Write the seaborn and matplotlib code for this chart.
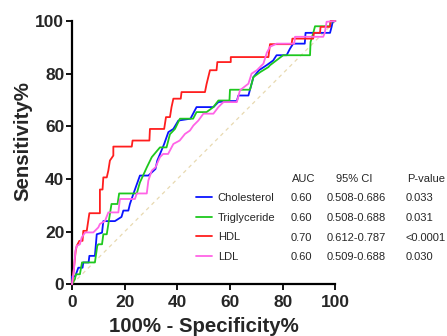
import matplotlib
matplotlib.use("Agg")
import matplotlib.pyplot as plt
import seaborn as sns
import pandas as pd
from matplotlib.lines import Line2D

sns.set_style("ticks")
plt.rcParams['font.family'] = ['Liberation Sans', 'DejaVu Sans']

# ---- data ----
chol_fpr = [0, 0, 1.2, 2.4, 4.0, 4.3, 6.3, 6.6, 8.7, 9.4, 11.4, 11.9, 16.3, 18.8, 19.5, 21.4, 22.0, 23.3, 25.8, 29.0,
            31.7, 32.4, 35.0, 36.6, 38.5, 40.4, 45.0, 47.3, 53.7, 55.6, 58.7, 62.6, 63.2, 67.0, 68.9, 71.0, 73.9, 76.4,
            77.7, 81.5, 82.8, 84.0, 88.4, 88.7, 98.0, 98.6, 99.0, 100]
chol_tpr = [0, 3.0, 3.0, 6.3, 6.3, 8.3, 8.3, 10.8, 10.8, 19.0, 19.6, 24.0, 24.0, 25.6, 28.0, 28.0, 30.5, 34.3, 41.3, 41.3,
            43.8, 47.0, 53.3, 57.8, 59.0, 62.2, 62.9, 67.3, 67.3, 69.2, 69.6, 69.6, 71.7, 71.7, 78.7, 81.3, 83.2, 85.0,
            87.0, 87.0, 89.5, 91.4, 91.4, 95.5, 95.5, 97.8, 99.7, 100]

trig_fpr = [0, 1.1, 1.5, 3.0, 3.8, 8.7, 9.6, 10.0, 11.4, 11.9, 13.2, 14.4, 15.0, 17.3, 17.9, 24.6, 25.8, 28.4, 30.3, 33.4,
            35.9, 37.2, 39.1, 41.0, 46.0, 47.3, 51.1, 53.7, 55.6, 59.8, 60.0, 67.6, 68.9, 71.5, 74.6, 75.2, 80.2, 90.4,
            90.6, 91.5, 92.3, 98.0, 98.2, 100]
trig_tpr = [0, 1.9, 3.8, 3.8, 8.3, 8.3, 14.6, 15.2, 15.2, 19.0, 19.0, 26.7, 30.5, 30.5, 34.5, 34.5, 38.7, 44.4, 48.3, 52.0,
            52.0, 57.0, 59.0, 62.9, 62.9, 65.4, 65.4, 67.3, 69.8, 69.8, 73.9, 73.9, 78.7, 80.6, 82.5, 83.2, 87.0, 87.0,
            92.0, 95.0, 98.0, 98.0, 99.7, 100]

hdl_fpr = [0, 0.5, 1.4, 1.8, 2.8, 4.0, 4.3, 5.6, 6.6, 10.6, 10.6, 11.6, 11.9, 13.2, 13.8, 14.4, 15.7, 15.7, 22.7, 23.0,
           29.4, 29.6, 35.0, 35.7, 37.2, 37.8, 38.5, 41.3, 41.6, 50.5, 51.1, 52.4, 54.9, 55.2, 60.3, 60.3, 74.6, 75.2,
           83.4, 83.7, 91.6, 91.9, 94.2, 94.4, 98.0, 98.2, 100]
hdl_tpr = [0, 3.8, 12.7, 14.6, 16.5, 16.5, 20.3, 20.3, 27.0, 27.0, 36.0, 36.0, 40.6, 40.6, 43.2, 47.0, 48.9, 52.3, 52.3,
           54.6, 54.6, 59.0, 59.0, 63.5, 63.5, 67.3, 70.5, 70.5, 73.0, 73.0, 76.0, 81.3, 81.3, 84.4, 84.4, 86.3, 86.3,
           91.2, 91.2, 93.3, 93.3, 95.5, 95.5, 97.8, 97.8, 100, 100]

ldl_fpr = [0, 0.8, 1.3, 1.8, 3.0, 3.7, 5.0, 6.2, 8.1, 10.0, 10.6, 12.5, 13.8, 17.6, 18.2, 23.9, 24.6, 28.4, 29.0, 30.3,
           31.7, 33.4, 34.6, 36.5, 38.5, 40.9, 42.9, 44.8, 46.1, 48.0, 49.9, 53.7, 55.6, 57.5, 62.6, 63.8, 67.0, 68.2,
           70.2, 72.7, 74.0, 75.2, 77.7, 84.4, 84.7, 95.4, 96.0, 96.7, 100]
ldl_tpr = [0, 6.3, 12.7, 14.6, 15.2, 17.8, 19.7, 19.7, 19.7, 21.6, 22.9, 24.0, 27.3, 27.3, 32.4, 32.4, 34.5, 34.5, 39.4,
           43.2, 44.4, 48.3, 49.5, 49.5, 53.3, 54.6, 57.1, 58.4, 60.3, 62.2, 64.8, 64.8, 67.3, 69.2, 69.2, 73.7, 76.2,
           80.0, 81.3, 83.8, 88.0, 90.2, 91.4, 91.4, 94.0, 94.0, 95.5, 99.7, 100]

series = ["Cholesterol", "Triglyceride", "HDL", "LDL"]
colors = ["#0a14ff", "#1ec81e", "#ff1e1e", "#ff64e6"]
auc = ["0.60", "0.60", "0.70", "0.60"]
ci = ["0.508-0.686", "0.508-0.688", "0.612-0.787", "0.509-0.688"]
pval = ["0.033", "0.031", "<0.0001", "0.030"]
xticks = [0, 20, 40, 60, 80, 100]
yticks = [0, 20, 40, 60, 80, 100]

fprs = [chol_fpr, trig_fpr, hdl_fpr, ldl_fpr]
tprs = [chol_tpr, trig_tpr, hdl_tpr, ldl_tpr]

W, H = 447, 336
fig = plt.figure(figsize=(W / 100, H / 100), dpi=100)
ax = fig.add_axes([72 / W, 1 - 284.3 / H, (335.3 - 72) / W, (284.3 - 21) / H])

# reference diagonal
diag = pd.DataFrame({"x": [0, 100], "y": [0, 100]})
sns.lineplot(data=diag, x="x", y="y", ax=ax, color="#e8d9b0", lw=0.9,
             linestyle=(0, (3, 3)), zorder=1)

order = [1, 0, 3, 2]
for i in order:
    df = pd.DataFrame({"fpr": fprs[i], "tpr": tprs[i]})
    sns.lineplot(data=df, x="fpr", y="tpr", ax=ax, sort=False, estimator=None,
                 color=colors[i], lw=1.3, zorder=3 + i, clip_on=False)

ax.set_xlim(0, 100)
ax.set_ylim(0, 100)
ax.set_xticks(xticks)
ax.set_yticks(yticks)
ax.set_xticklabels([str(t) for t in xticks], fontsize=12.5, fontweight="bold")
ax.set_yticklabels([str(t) for t in yticks], fontsize=12.5, fontweight="bold")
ax.tick_params(axis="both", length=4, width=1.3, color="black")
ax.tick_params(axis="x", pad=3.5)
ax.tick_params(axis="y", pad=1.5)
sns.despine(ax=ax)
for s in ["left", "bottom"]:
    ax.spines[s].set_linewidth(1.6)
    ax.spines[s].set_color("black")

ax.set_xlabel("100% - Specificity%", fontsize=14.7, fontweight="bold", labelpad=5)
ax.set_ylabel("Sensitivity%", fontsize=14.7, fontweight="bold")
ax.yaxis.set_label_coords(-0.152, 0.545)

# legend with table
handles = [Line2D([0], [0], color=colors[i], lw=1.3) for i in range(4)]
leg = fig.legend(handles, series, loc="center left",
                 bbox_to_anchor=(196 / W, 1 - 227.5 / H), frameon=False,
                 fontsize=8, handlelength=1.45, handletextpad=0.5,
                 labelspacing=0.87, borderpad=0, borderaxespad=0)

rows_y = [198.3, 218.3, 238.0, 257.5]
fs = 8
fig.text(304 / W, 1 - 179 / H, "AUC", ha="center", va="center", fontsize=fs)
fig.text(354 / W, 1 - 179 / H, "95% CI", ha="center", va="center", fontsize=fs)
fig.text(426 / W, 1 - 179 / H, "P-value", ha="center", va="center", fontsize=fs)
for i in range(4):
    y = 1 - rows_y[i] / H
    fig.text(290.5 / W, y, auc[i], ha="left", va="center", fontsize=fs)
    fig.text(326.5 / W, y, ci[i], ha="left", va="center", fontsize=fs)
    fig.text(405.5 / W, y, pval[i], ha="left", va="center", fontsize=fs)

fig.savefig("out.png", dpi=100)
